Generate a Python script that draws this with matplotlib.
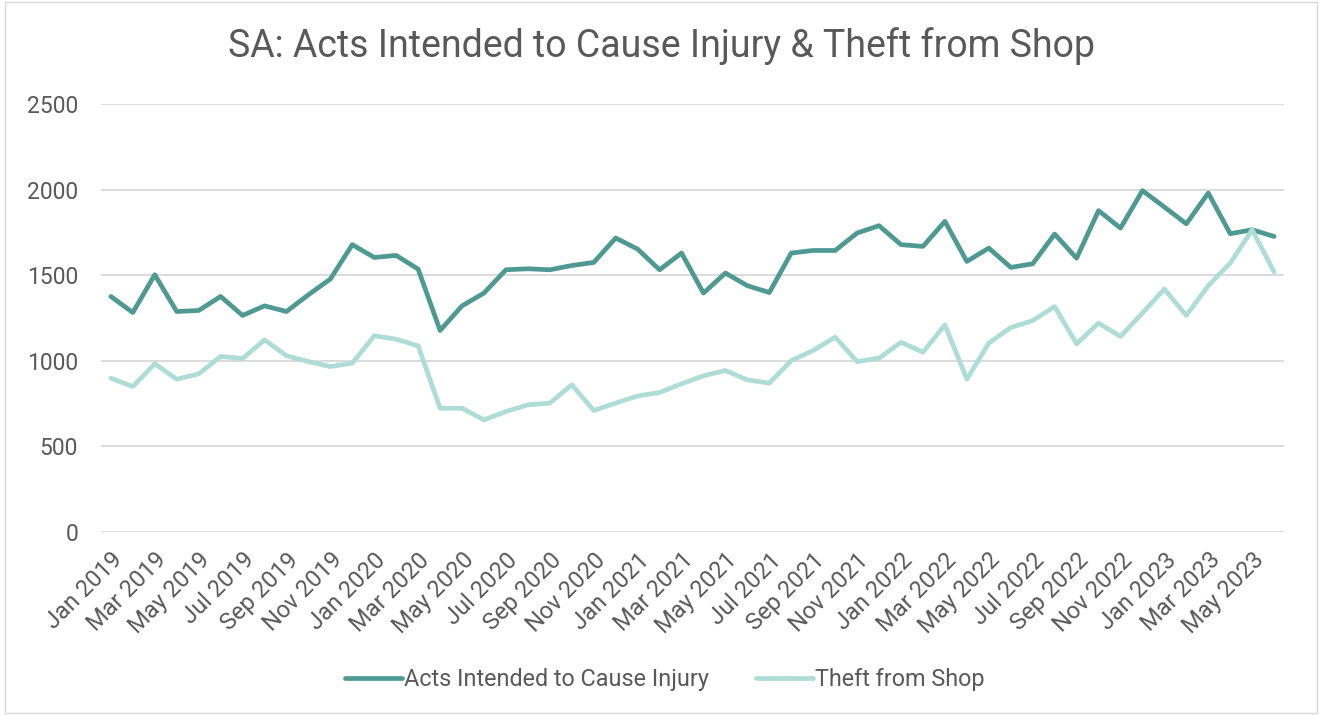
import matplotlib.pyplot as plt
from matplotlib.patches import Rectangle

plt.rcParams['font.family'] = ['Roboto', 'DejaVu Sans']

months = ['Jan', 'Feb', 'Mar', 'Apr', 'May', 'Jun', 'Jul', 'Aug', 'Sep', 'Oct', 'Nov', 'Dec']
labels = [m + ' ' + str(y) for y in range(2019, 2024) for m in months][:54]

# Jan 2019 .. Jun 2023
injury = [1376, 1282, 1503, 1288, 1294, 1376, 1265, 1321, 1288, 1386, 1478, 1679,
          1604, 1616, 1536, 1177, 1321, 1396, 1532, 1538, 1532, 1557, 1575, 1718,
          1653, 1532, 1630, 1396, 1513, 1439, 1399, 1630, 1645, 1645, 1747, 1790,
          1679, 1669, 1815, 1581, 1659, 1546, 1567, 1741, 1600, 1878, 1776, 1995,
          1899, 1801, 1981, 1743, 1766, 1727]
theft = [898, 849, 982, 892, 923, 1025, 1013, 1122, 1029, 995, 966, 986,
         1146, 1126, 1087, 722, 722, 654, 703, 742, 752, 859, 709, 752,
         794, 814, 865, 912, 943, 888, 869, 1001, 1060, 1138, 995, 1015,
         1108, 1050, 1210, 892, 1103, 1194, 1235, 1317, 1099, 1220, 1142, 1279,
         1419, 1265, 1439, 1571, 1766, 1519]

grey = '#595959'
fig = plt.figure(figsize=(13.24, 7.15), dpi=100)
ax = fig.add_axes([101/1324, 1 - 531.7/715, (1284 - 101)/1324, (531.7 - 104.3)/715])

x = list(range(len(labels)))
ax.plot(x, injury, color='#4E9A93', lw=3.4, solid_joinstyle='round', solid_capstyle='round',
        label='Acts Intended to Cause Injury')
ax.plot(x, theft, color='#AEDDD7', lw=3.4, solid_joinstyle='round', solid_capstyle='round',
        label='Theft from Shop')

ax.set_ylim(0, 2500)
ax.set_xlim(-0.45, 53.45)
ax.set_yticks(range(0, 2501, 500))
ax.set_xticks(x[::2])
ax.set_xticklabels(labels[::2], rotation=45, ha='right', rotation_mode='anchor',
                   fontsize=17, color=grey)
ax.tick_params(axis='y', labelsize=16.5, labelcolor=grey, length=0, pad=16.5)
ax.tick_params(axis='x', length=0, pad=12)
ax.grid(axis='y', color='#D9D9D9', lw=1.3)
ax.set_axisbelow(True)
for s in ax.spines.values():
    s.set_visible(False)

fig.suptitle('SA: Acts Intended to Cause Injury & Theft from Shop', y=0.962,
             fontsize=27, color=grey)
fig.legend(loc='center', bbox_to_anchor=(0.502, 0.049), ncol=2, frameon=False,
           fontsize=16.8, labelcolor=grey, handlelength=2.45, handletextpad=0.1,
           columnspacing=2.0)

fig.patches.append(Rectangle((5/1324, 2/715), 1312/1324, 711/715, transform=fig.transFigure,
                             fill=False, edgecolor='#D9D9D9', lw=1))

fig.savefig('out.png', dpi=100)
